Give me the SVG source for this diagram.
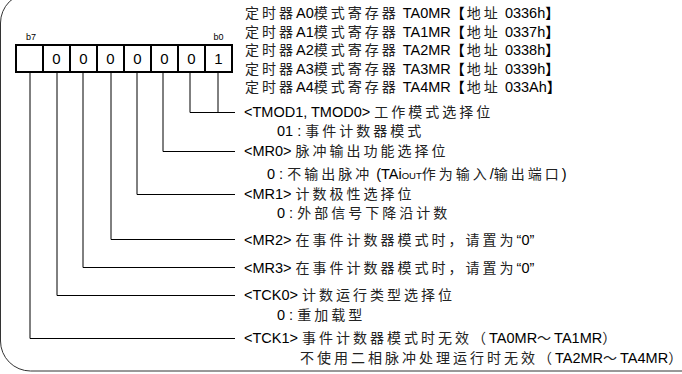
<svg xmlns="http://www.w3.org/2000/svg" width="682" height="374" viewBox="0 0 682 374">
<style>
.t{font-family:"Liberation Sans","Noto Sans CJK SC",sans-serif;font-size:14.5px;fill:#000}
.k{font-family:"Noto Sans CJK SC",sans-serif;font-size:14px;letter-spacing:3px;fill:#222}
.ke{font-family:"Noto Sans CJK SC",sans-serif;font-size:14px;fill:#222}
.br{font-family:"Noto Sans CJK SC",sans-serif;font-size:14px;font-weight:700;letter-spacing:2px;fill:#000}
.bre{font-family:"Noto Sans CJK SC",sans-serif;font-size:14px;font-weight:700;fill:#000}
.d{font-family:"Liberation Sans",sans-serif;font-size:15px;fill:#000;text-anchor:middle}
.bl{font-family:"Liberation Sans",sans-serif;font-size:9px;fill:#000;text-anchor:middle}
.sc{font-size:9.5px}
.cn{fill:none;stroke:#000;stroke-width:1}
.frame{fill:none;stroke:#333;stroke-width:1}
.box{fill:#fff;stroke:#000;stroke-width:2}
</style>
<rect class="frame" x="0.5" y="-7" width="720" height="378" rx="30" ry="30"/>
<g id="title">
<text class="t" x="245" y="18"><tspan class="k">定时器</tspan>A0<tspan class="k">模式寄存器</tspan> TA0MR<tspan class="br">【</tspan><tspan class="k">地址</tspan> 0336h<tspan class="bre">】</tspan></text>
<text class="t" x="245" y="36.5"><tspan class="k">定时器</tspan>A1<tspan class="k">模式寄存器</tspan> TA1MR<tspan class="br">【</tspan><tspan class="k">地址</tspan> 0337h<tspan class="bre">】</tspan></text>
<text class="t" x="245" y="55"><tspan class="k">定时器</tspan>A2<tspan class="k">模式寄存器</tspan> TA2MR<tspan class="br">【</tspan><tspan class="k">地址</tspan> 0338h<tspan class="bre">】</tspan></text>
<text class="t" x="245" y="73.5"><tspan class="k">定时器</tspan>A3<tspan class="k">模式寄存器</tspan> TA3MR<tspan class="br">【</tspan><tspan class="k">地址</tspan> 0339h<tspan class="bre">】</tspan></text>
<text class="t" x="245" y="92"><tspan class="k">定时器</tspan>A4<tspan class="k">模式寄存器</tspan> TA4MR<tspan class="br">【</tspan><tspan class="k">地址</tspan> 033Ah<tspan class="bre">】</tspan></text>
</g>
<g id="register">
<rect class="box" x="16" y="45" width="216" height="27"/>
<path d="M43 45V72M70 45V72M97 45V72M124 45V72M151 45V72M178 45V72M205 45V72" stroke="#000" stroke-width="2" fill="none"/>
<text class="bl" x="31" y="40">b7</text>
<text class="bl" x="218.5" y="40">b0</text>
<text class="d" x="56.5" y="64">0</text>
<text class="d" x="83.5" y="64">0</text>
<text class="d" x="110.5" y="64">0</text>
<text class="d" x="137.5" y="64">0</text>
<text class="d" x="164.5" y="64">0</text>
<text class="d" x="191.5" y="64">0</text>
<text class="d" x="218.5" y="64">1</text>
</g>
<g id="connectors">
<path class="cn" d="M218 72V112.5H190V72M190 112.5H235"/>
<path class="cn" d="M163 72V151.5H235"/>
<path class="cn" d="M137 72V194.5H235"/>
<path class="cn" d="M111 72V239.5H235"/>
<path class="cn" d="M83 72V267.5H235"/>
<path class="cn" d="M57 72V295.5H235"/>
<path class="cn" d="M30 72V338.5H235"/>
</g>
<g id="field-tmod">
<text class="t" x="244" y="116.5">&lt;TMOD1, TMOD0&gt; <tspan class="k">工作模式选择</tspan><tspan class="ke">位</tspan></text>
<text class="t" x="277" y="135.5">01 : <tspan class="k">事件计数器模</tspan><tspan class="ke">式</tspan></text>
</g>
<g id="field-mr0">
<text class="t" x="244" y="156">&lt;MR0&gt; <tspan class="k">脉冲输出功能选择</tspan><tspan class="ke">位</tspan></text>
<text class="t" x="267" y="179">0 : <tspan class="k">不输出脉冲</tspan> (TAi<tspan class="sc">OUT</tspan><tspan class="k">作为输入</tspan>/<tspan class="k">输出端口</tspan>)</text>
</g>
<g id="field-mr1">
<text class="t" x="244" y="199">&lt;MR1&gt; <tspan class="k">计数极性选择</tspan><tspan class="ke">位</tspan></text>
<text class="t" x="277" y="218">0 : <tspan class="k">外部信号下降沿计</tspan><tspan class="ke">数</tspan></text>
</g>
<g id="field-mr2">
<text class="t" x="244" y="245">&lt;MR2&gt; <tspan class="k">在事件计数器模式时，请置为</tspan>“0”</text>
</g>
<g id="field-mr3">
<text class="t" x="244" y="273">&lt;MR3&gt; <tspan class="k">在事件计数器模式时，请置为</tspan>“0”</text>
</g>
<g id="field-tck0">
<text class="t" x="244" y="300">&lt;TCK0&gt; <tspan class="k">计数运行类型选择</tspan><tspan class="ke">位</tspan></text>
<text class="t" x="277" y="320">0 : <tspan class="k">重加载</tspan><tspan class="ke">型</tspan></text>
</g>
<g id="field-tck1">
<text class="t" x="244" y="343">&lt;TCK1&gt; <tspan class="k">事件计数器模式时无效（</tspan>TA0MR<tspan class="k">～</tspan>TA1MR<tspan class="ke">）</tspan></text>
<text class="t" x="300" y="363"><tspan class="k">不使用二相脉冲处理运行时无效（</tspan>TA2MR<tspan class="k">～</tspan>TA4MR<tspan class="ke">）</tspan></text>
</g>
</svg>
